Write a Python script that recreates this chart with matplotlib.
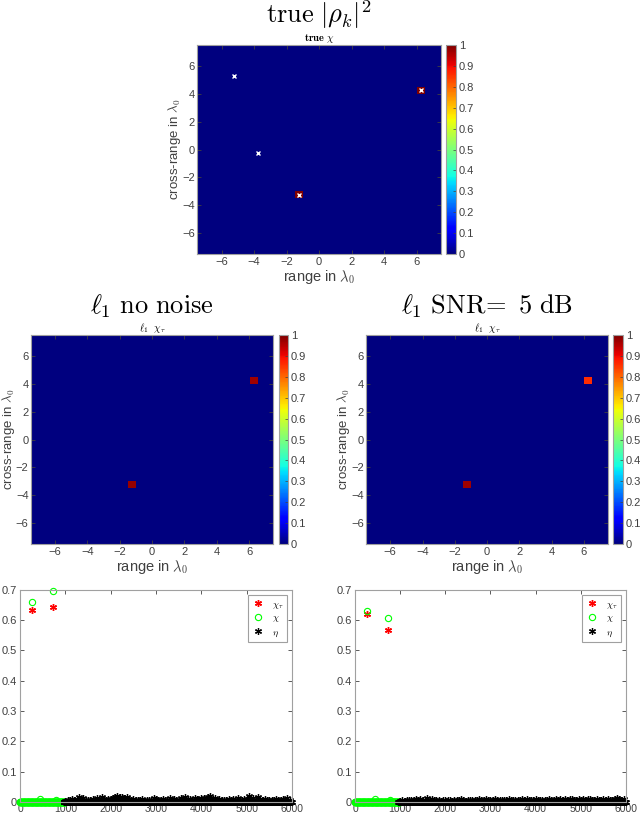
import numpy as np
import matplotlib
matplotlib.use('Agg')
import matplotlib.pyplot as plt

plt.rcParams['font.family'] = ['Liberation Sans', 'DejaVu Sans']
plt.rcParams['mathtext.fontset'] = 'cm'

# target positions (in lambda_0) and amplitudes for each image
target_x = [-5.25, -3.75, -1.25, 6.25]
target_y = [5.25, -0.25, -3.25, 4.25]
true_amp = [0.0, 0.0, 1.0, 1.0]
l1_clean_amp = [0.0, 0.0, 0.98, 0.97]
l1_noisy_amp = [0.0, 0.0, 0.97, 0.86]

# bottom scatter panels: index vs value
chi_tau_idx_a = [271, 735]
chi_tau_val_a = [0.632, 0.642]
chi_idx_a = [271, 735, 441, 787]
chi_val_a = [0.660, 0.697, 0.010, 0.006]

chi_tau_idx_b = [259, 737]
chi_tau_val_b = [0.620, 0.567]
chi_idx_b = [259, 737, 443, 775]
chi_val_b = [0.630, 0.607, 0.010, 0.007]

# eta noise values (x1e-3), one every 50 indices from 1000
eta_a = [4, 8, 6, 10, 5, 9, 18, 7, 12, 6,
         8, 5, 10, 7, 12, 6, 16, 9, 7, 11,
         9, 13, 17, 19, 15, 18, 12, 16, 10, 8,
         11, 6, 7, 5, 9, 4, 6, 8, 5, 12,
         10, 7, 5, 9, 6, 8, 14, 7, 10, 6,
         8, 12, 6, 15, 9, 11, 7, 13, 10, 8,
         12, 14, 9, 16, 20, 10, 13, 7, 9, 6,
         8, 5, 10, 6, 9, 7, 12, 8, 6, 9,
         11, 19, 9, 13, 8, 15, 10, 7, 9, 6,
         5, 8, 6, 10, 7, 5, 9, 6, 12, 8]
eta_b = [3, 5, 4, 7, 6, 8, 5, 9, 7, 10,
         6, 8, 12, 7, 9, 6, 5, 8, 4, 7,
         6, 5, 8, 4, 6, 7, 5, 9, 6, 4,
         5, 7, 6, 8, 5, 9, 7, 6, 10, 5,
         8, 6, 9, 7, 5, 8, 6, 7, 9, 6,
         7, 5, 8, 6, 9, 7, 10, 6, 8, 5,
         9, 7, 6, 8, 5, 7, 9, 6, 8, 10,
         7, 9, 8, 11, 7, 9, 10, 8, 6, 9,
         8, 10, 7, 9, 11, 8, 7, 9, 6, 8,
         9, 7, 10, 8, 6, 9, 12, 10, 7, 9]

ext = 7.5
ncell = 30
gray = '#404040'
green = '#00ff00'
asterisk = (6, 2, 0)


def make_image(amps):
    z = np.zeros((ncell, ncell))
    edges = np.linspace(-ext, ext, ncell + 1)
    for x, y, a in zip(target_x, target_y, amps):
        i = np.searchsorted(edges, y) - 1
        j = np.searchsorted(edges, x) - 1
        z[i, j] = a
    return z


def style_axes(ax):
    ax.tick_params(direction='in', top=True, right=True, labelsize=8,
                   colors=gray, length=3, width=0.6, pad=2)
    for s in ax.spines.values():
        s.set_color('#a0a0a0')
        s.set_linewidth(0.8)


def image_panel(fig, rect, crect, amps, small_title, big_title, markers=False):
    ax = fig.add_axes(rect)
    im = ax.imshow(make_image(amps), origin='lower', cmap='jet', vmin=0, vmax=1,
                   extent=[-ext, ext, -ext, ext], aspect='auto', interpolation='nearest')
    if markers:
        ax.plot(target_x, target_y, 'x', color='white', ms=3, mew=1)
    ax.set_xlim(-ext, ext)
    ax.set_ylim(-ext, ext)
    ax.set_xticks(np.arange(-6, 7, 2))
    ax.set_yticks(np.arange(-6, 7, 2))
    style_axes(ax)
    ax.tick_params(axis='y', pad=1.5)
    ax.set_xlabel(r'range in $\lambda_0$', fontsize=10.5, color=gray, labelpad=1)
    ax.set_ylabel(r'cross-range in $\lambda_0$', fontsize=9.5, color=gray, labelpad=-0.5)
    ax.set_title(small_title, fontsize=7.5, pad=3)
    fig.text(rect[0] + rect[2] / 2, rect[1] + rect[3] + 0.027, big_title,
             ha='center', va='baseline', fontsize=19)
    cax = fig.add_axes(crect)
    cb = fig.colorbar(im, cax=cax, ticks=np.arange(0, 1.01, 0.1))
    cb.ax.set_yticklabels(['0', '0.1', '0.2', '0.3', '0.4', '0.5', '0.6', '0.7', '0.8', '0.9', '1'])
    cb.ax.tick_params(labelsize=8, colors=gray, length=2, width=0.5, direction='in', pad=2)
    cb.outline.set_edgecolor('#a0a0a0')
    cb.outline.set_linewidth(0.8)
    return ax


def scatter_panel(fig, rect, ct_idx, ct_val, c_idx, c_val, eta):
    ax = fig.add_axes(rect)
    base_chi = np.arange(0, 1000, 8)
    base_eta = np.arange(960, 6000, 8)
    eta_idx = 1000 + 50 * np.arange(len(eta))
    ax.plot(base_chi, np.zeros(len(base_chi)), 'o', mfc='none', mec=green, ms=4.5, mew=1,
            clip_on=False)
    ax.plot(base_eta, np.zeros(len(base_eta)), marker=asterisk, ls='none', color='black',
            ms=5, mew=0.9, clip_on=False)
    ax.plot(eta_idx, np.array(eta) / 1000.0, marker=asterisk, ls='none', color='black',
            ms=5, mew=0.9, clip_on=False)
    ax.plot(ct_idx, ct_val, marker=asterisk, ls='none', color='red', ms=5, mew=1,
            label=r'$\chi_\tau$')
    ax.plot(c_idx, c_val, 'o', mfc='none', mec=green, ms=4.5, mew=0.8, label=r'$\chi$',
            clip_on=False)
    ax.plot([], [], marker=asterisk, ls='none', color='black', ms=5, mew=0.9, label=r'$\eta$')
    ax.set_xlim(0, 6000)
    ax.set_ylim(0, 0.7)
    ax.set_xticks(np.arange(0, 6001, 1000))
    ax.set_yticks(np.arange(0, 0.71, 0.1))
    ax.set_yticklabels(['0', '0.1', '0.2', '0.3', '0.4', '0.5', '0.6', '0.7'])
    style_axes(ax)
    ax.tick_params(axis='x', pad=1.5, labelsize=7.5)
    leg = ax.legend(loc='upper right', fontsize=7, handlelength=1.2, borderpad=0.4,
                    labelspacing=0.2, fancybox=False, framealpha=1)
    leg.get_frame().set_edgecolor('#a0a0a0')
    leg.get_frame().set_linewidth(0.8)
    return ax


fig = plt.figure(figsize=(6.4, 8.16), dpi=100)

image_panel(fig, [0.308, 0.6887, 0.381, 0.256], [0.697, 0.6887, 0.0156, 0.256],
            true_amp, r'$\mathbf{true}\ \chi$', r'$\mathrm{true}\ |\rho_k|^2$', markers=True)
image_panel(fig, [0.048, 0.3333, 0.379, 0.256], [0.436, 0.3333, 0.0145, 0.256],
            l1_clean_amp, r'$\ell_1\ \ \chi_\tau$', r'$\ell_1\ \mathrm{no\ noise}$')
image_panel(fig, [0.572, 0.3333, 0.378, 0.256], [0.958, 0.3333, 0.0156, 0.256],
            l1_noisy_amp, r'$\ell_1\ \ \chi_\tau$', r'$\ell_1\ \mathrm{SNR}\!=\ 5\ \mathrm{dB}$')

scatter_panel(fig, [0.03125, 0.0172, 0.425, 0.26], chi_tau_idx_a, chi_tau_val_a,
              chi_idx_a, chi_val_a, eta_a)
scatter_panel(fig, [0.5547, 0.0172, 0.4234, 0.26], chi_tau_idx_b, chi_tau_val_b,
              chi_idx_b, chi_val_b, eta_b)

fig.savefig('out.png', dpi=100)
